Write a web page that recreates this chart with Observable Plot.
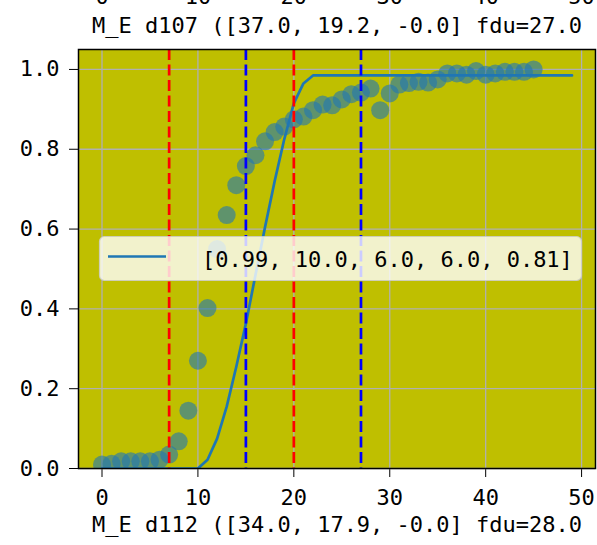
<!DOCTYPE html>
<html>
<head>
<meta charset="utf-8">
<script src="https://cdn.jsdelivr.net/npm/d3@7"></script>
<script src="https://cdn.jsdelivr.net/npm/@observablehq/plot@0.6"></script>
<style>
  html, body { margin: 0; padding: 0; background: white; }
  svg [aria-label^="x-axis"] line, svg [aria-label^="y-axis"] line { stroke-width: 1.5px; }
</style>
</head>
<body>
<div id="chart"></div>
<script>
// ---- data ----
const xTicks = [0, 10, 20, 30, 40, 50];
const yTicks = [0, 0.2, 0.4, 0.6, 0.8, 1.0];
const topTitle = ["M_E d107 ([37.0, 19.2, -0.0] fdu=27.0"];
const bottomTitle = ["M_E d112 ([34.0, 17.9, -0.0] fdu=28.0"];
const legendLabel = ["[0.99, 10.0, 6.0, 6.0, 0.81]"];
const redLines = [7, 20];
const blueLines = [15, 27];
// observed points (index = day)
const observed = [0.010, 0.012, 0.018, 0.018, 0.018, 0.018, 0.022, 0.035, 0.068, 0.145,
  0.270, 0.402, 0.550, 0.635, 0.710, 0.758, 0.785, 0.820, 0.843, 0.857,
  0.875, 0.882, 0.898, 0.912, 0.910, 0.925, 0.938, 0.942, 0.952, 0.898,
  0.940, 0.962, 0.966, 0.969, 0.967, 0.975, 0.990, 0.990, 0.987, 0.996,
  0.987, 0.990, 0.994, 0.994, 0.994, 1.000];
// fitted curve (index = day)
const fitted = [0, 0, 0, 0, 0, 0, 0, 0, 0, 0,
  0, 0.022, 0.075, 0.155, 0.255, 0.363, 0.485, 0.605, 0.720, 0.825,
  0.915, 0.965, 0.985, 0.985, 0.985, 0.985, 0.985, 0.985, 0.985, 0.985,
  0.985, 0.985, 0.985, 0.985, 0.985, 0.985, 0.985, 0.985, 0.985, 0.985,
  0.985, 0.985, 0.985, 0.985, 0.985, 0.985, 0.985, 0.985, 0.985, 0.985];

const obsData = observed.map((v, i) => ({x: i, y: v}));
const fitData = fitted.map((v, i) => ({x: i, y: v}));

const FONT = "'DejaVu Sans Mono', monospace";

const chart = Plot.plot({
  width: 597,
  height: 545,
  marginLeft: 78,
  marginRight: 2,
  marginTop: 49,
  marginBottom: 77,
  style: {fontFamily: FONT, fontSize: "22px", color: "black", background: "white", overflow: "visible"},
  x: {domain: [-2.45, 51.45], ticks: xTicks, tickSize: 9, tickPadding: 12, tickFormat: d => String(d), label: null},
  y: {domain: [0, 1.05], ticks: yTicks, tickSize: 9, tickPadding: 10, tickFormat: d => d.toFixed(1), label: null},
  marks: [
    Plot.frame({fill: "#bfbf00", stroke: "none"}),
    Plot.ruleX(xTicks, {x: d => d, stroke: "#b0b0b0", strokeWidth: 1.3}),
    Plot.ruleY(yTicks, {y: d => d, stroke: "#b0b0b0", strokeWidth: 1.3}),
    Plot.line(fitData, {x: "x", y: "y", stroke: "#1f77b4", strokeWidth: 2.7, clip: true}),
    Plot.dot(obsData, {x: "x", y: "y", r: 9, fill: "#1f77b4", fillOpacity: 0.6, stroke: "none", clip: true}),
    Plot.ruleX(redLines, {x: d => d, stroke: "#ff0000", strokeWidth: 2.7, strokeDasharray: "11,4.5"}),
    Plot.ruleX(blueLines, {x: d => d, stroke: "#0000ff", strokeWidth: 2.7, strokeDasharray: "11,4.5"}),
    Plot.frame({stroke: "black", strokeWidth: 1.5}),
    Plot.text(topTitle, {text: d => d, frameAnchor: "top", lineAnchor: "middle", dy: -24, fontSize: 22, fill: "black"}),
    Plot.text(bottomTitle, {text: d => d, frameAnchor: "bottom", lineAnchor: "middle", dy: 56, fontSize: 22, fill: "black"}),
    Plot.text(xTicks, {x: d => d, text: d => String(d), frameAnchor: "top", lineAnchor: "middle", dy: -53, fontSize: 22, fill: "black"})
  ]
});

// legend (matplotlib-style box inside the axes)
const svg = d3.select(chart);
const lg = svg.append("g").attr("class", "legend");
lg.append("rect")
  .attr("x", 99.5).attr("y", 236.5).attr("width", 482).attr("height", 44)
  .attr("rx", 5).attr("ry", 5)
  .attr("fill", "white").attr("fill-opacity", 0.8)
  .attr("stroke", "#cccccc").attr("stroke-opacity", 0.8).attr("stroke-width", 1.2);
lg.append("line")
  .attr("x1", 108).attr("x2", 166).attr("y1", 256.5).attr("y2", 256.5)
  .attr("stroke", "#1f77b4").attr("stroke-width", 2.7);
lg.append("text")
  .attr("x", 202).attr("y", 267)
  .attr("text-anchor", "start")
  .attr("font-family", FONT).attr("font-size", 22).attr("fill", "black")
  .text(legendLabel[0]);

document.getElementById("chart").appendChild(chart);
</script>
</body>
</html>
